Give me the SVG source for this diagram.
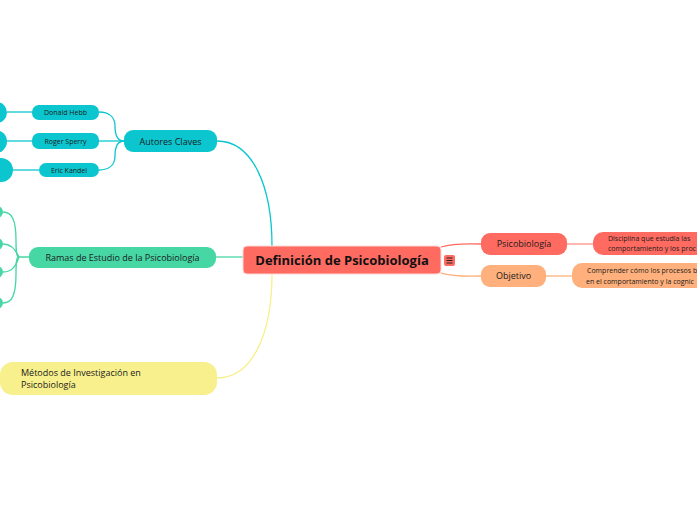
<svg xmlns="http://www.w3.org/2000/svg" width="697" height="520" viewBox="0 0 697 520">
<style>
text{font-family:"Open Sans","Noto Sans","Liberation Sans",sans-serif;fill:#1b1b1b}
.c{text-anchor:middle}
.t9{font-size:9px}
.t7{font-size:7px}
.ln{fill:none;stroke-width:1.3}
.cy{fill:#0cc6cf}
.gr{fill:#47d7a5}
</style>
<rect width="697" height="520" fill="#ffffff"/>
<g id="connectors">
<path class="ln" stroke="#0cc6cf" d="M272 246 C272 185 252 141 217 141"/>
<path class="ln" stroke="#47d7a5" d="M243 257 L216 257"/>
<path class="ln" stroke="#f8f08d" d="M272 274 C272 335 252 378 217 378"/>
<path class="ln" stroke="#ff6b61" d="M441 247 C455 243 465 244 481 244"/>
<path class="ln" stroke="#ffb07c" d="M441 273 C455 277 465 276 481 276"/>
<path class="ln" stroke="#ff8f88" d="M567 244 L593 244"/>
<path class="ln" stroke="#ffb07c" d="M546 276 L572 276"/>
<path class="ln" stroke="#0cc6cf" d="M124 141 L99 141"/>
<path class="ln" stroke="#0cc6cf" d="M124 141 C117 141 115 134 115 126 C115 117 109 112 99 112"/>
<path class="ln" stroke="#0cc6cf" d="M124 141 C117 141 115 148 115 156 C115 165 109 170 99 170"/>
<path class="ln" stroke="#0cc6cf" d="M7 112 L32 112"/>
<path class="ln" stroke="#0cc6cf" d="M7 141 L32 141"/>
<path class="ln" stroke="#0cc6cf" d="M13 170 L39 170"/>
<path class="ln" stroke="#47d7a5" d="M29 257 L19 257 C16 257 16 250 16 240 C16 220 12 212 3 212"/>
<path class="ln" stroke="#47d7a5" d="M19 257 C16 250 12 244 3 244"/>
<path class="ln" stroke="#47d7a5" d="M19 257 C16 266 12 272 3 272"/>
<path class="ln" stroke="#47d7a5" d="M19 257 C16 257 16 264 16 274 C16 295 12 303 3 303"/>
</g>
<g id="central">
<rect x="243" y="246" width="198" height="28" rx="4" fill="#ff6b61" stroke="#ffd9d5" stroke-width="1"/>
<text class="c" x="342" y="265" style="font-size:13px;font-weight:bold;fill:#111">Definición de Psicobiología</text>
</g>
<g id="menu-icon">
<rect x="444" y="255" width="11" height="11" rx="2" fill="#ff6b61"/>
<path d="M446.5 258h6M446.5 260.5h6M446.5 263h6" stroke="#222" stroke-width="1"/>
</g>
<g id="psicobiologia">
<rect x="481" y="233" width="86" height="22" rx="9" fill="#ff6b61"/>
<text class="c t9" x="524" y="247">Psicobiología</text>
</g>
<g id="objetivo">
<rect x="481" y="265" width="65" height="22" rx="9" fill="#ffb07c"/>
<text class="c t9" x="513.5" y="279">Objetivo</text>
</g>
<g id="disciplina">
<rect x="593" y="232" width="140" height="23" rx="10" fill="#ff6b61"/>
<text class="t7" x="608" y="241">Disciplina que estudia las</text>
<text class="t7" x="608" y="251">comportamiento y los proc</text>
</g>
<g id="comprender">
<rect x="572" y="263" width="160" height="25" rx="10" fill="#ffb07c"/>
<text class="t7" x="587" y="273">Comprender cómo los procesos b</text>
<text class="t7" x="586" y="284">en el comportamiento y la cognic</text>
</g>
<g id="autores">
<rect x="124" y="130" width="93" height="22" rx="9" class="cy"/>
<text class="c t9" x="170.5" y="144.5">Autores Claves</text>
</g>
<g id="donald">
<rect x="32" y="105" width="67" height="15" rx="7" class="cy"/>
<text class="c t7" x="65.5" y="115">Donald Hebb</text>
</g>
<g id="roger">
<rect x="32" y="133" width="67" height="16" rx="7" class="cy"/>
<text class="c t7" x="65.5" y="143.5">Roger Sperry</text>
</g>
<g id="eric">
<rect x="39" y="163" width="60" height="14" rx="7" class="cy"/>
<text class="c t7" x="69" y="172.5">Eric Kandel</text>
</g>
<g id="autor-a"><rect x="-60" y="102" width="67" height="21" rx="10.5" class="cy"/></g>
<g id="autor-b"><rect x="-60" y="130" width="67" height="23" rx="11.5" class="cy"/></g>
<g id="autor-c"><rect x="-60" y="158" width="73" height="24" rx="12" class="cy"/></g>
<g id="ramas">
<rect x="29" y="247" width="187" height="21" rx="9" class="gr"/>
<text class="c t9" x="122.5" y="260.5">Ramas de Estudio de la Psicobiología</text>
</g>
<g id="rama-a"><rect x="-30" y="206" width="33" height="12" rx="6" class="gr"/></g>
<g id="rama-b"><rect x="-30" y="238" width="33" height="12" rx="6" class="gr"/></g>
<g id="rama-c"><rect x="-30" y="266" width="33" height="12" rx="6" class="gr"/></g>
<g id="rama-d"><rect x="-30" y="297" width="33" height="12" rx="6" class="gr"/></g>
<g id="metodos">
<rect x="0" y="362" width="217" height="33" rx="13" fill="#f8f08d"/>
<text class="t9" x="21" y="376">Métodos de Investigación en</text>
<text class="t9" x="21" y="388">Psicobiología</text>
</g>
</svg>
